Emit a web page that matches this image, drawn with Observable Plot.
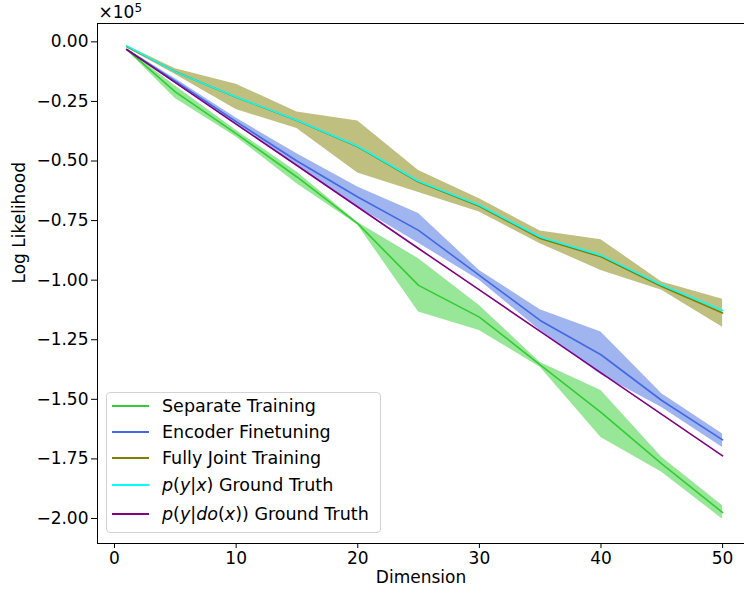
<!DOCTYPE html>
<html><head><meta charset="utf-8">
<script src="https://cdn.jsdelivr.net/npm/d3@7"></script>
<script src="https://cdn.jsdelivr.net/npm/@observablehq/plot@0.6"></script>
<style>
body{margin:0;background:#fff;}
#wrap{position:relative;width:744px;height:592px;font-family:"DejaVu Sans",sans-serif;}
#legend{position:absolute;left:106px;top:392px;width:275px;height:141px;box-sizing:border-box;border:1px solid #d3d3d3;border-radius:4px;background:rgba(255,255,255,0.8);font-size:17.5px;color:#000;}
.item{position:absolute;left:0;width:100%;height:22px;line-height:22px;}
.sw{position:absolute;left:5px;top:10px;width:37px;height:2px;display:block;}
.lab{position:absolute;left:55px;top:0;white-space:nowrap;}
</style></head>
<body>
<div id="wrap"><div id="legend"></div></div>
<script>
// values in units of 1e5
const dims = [1, 5, 10, 15, 20, 25, 30, 35, 40, 45, 50];
const sepMean = [-0.032, -0.21, -0.385, -0.567, -0.763, -1.022, -1.155, -1.355, -1.555, -1.771, -1.975];
const sepLow  = [-0.034, -0.238, -0.399, -0.595, -0.768, -1.134, -1.211, -1.365, -1.66, -1.806, -2.003];
const sepHigh = [-0.030, -0.185, -0.371, -0.546, -0.758, -0.91, -1.106, -1.345, -1.463, -1.743, -1.947];
const encMean = [-0.032, -0.165, -0.335, -0.50, -0.651, -0.791, -0.98, -1.169, -1.313, -1.505, -1.67];
const encLow  = [-0.034, -0.175, -0.35, -0.52, -0.693, -0.845, -1.0, -1.211, -1.397, -1.534, -1.702];
const encHigh = [-0.030, -0.155, -0.32, -0.47, -0.609, -0.72, -0.959, -1.124, -1.218, -1.477, -1.646];
const jointMean = [-0.02, -0.125, -0.232, -0.33, -0.44, -0.588, -0.69, -0.825, -0.902, -1.027, -1.138];
const jointLow  = [-0.025, -0.137, -0.284, -0.364, -0.55, -0.632, -0.714, -0.847, -0.959, -1.042, -1.198];
const jointHigh = [-0.015, -0.113, -0.178, -0.294, -0.332, -0.54, -0.658, -0.794, -0.83, -1.008, -1.08];
const pyxTruth = [-0.017, -0.126, -0.231, -0.329, -0.438, -0.585, -0.686, -0.819, -0.896, -1.02, -1.127];
const pdoTruth = [-0.032, -0.171, -0.345, -0.519, -0.693, -0.867, -1.041, -1.215, -1.389, -1.563, -1.737];

const xTicks = [0, 10, 20, 30, 40, 50];
const yTicks = [0, -0.25, -0.5, -0.75, -1, -1.25, -1.5, -1.75, -2];
const xDomain = [-1.4, 51.8];
const yDomain = [-2.105, 0.077];

const names = ["Separate Training", "Encoder Finetuning", "Fully Joint Training",
  "<i>p</i>(<i>y</i>|<i>x</i>) Ground Truth", "<i>p</i>(<i>y</i>|<i>do</i>(<i>x</i>)) Ground Truth"];
const colors = ["#32cd32", "#4169e1", "#808000", "#00ffff", "#800080"];

const band = (lo, hi) => dims.map((d, i) => ({d, lo: lo[i], hi: hi[i]}));
const line = (v) => dims.map((d, i) => ({d, v: v[i]}));

const font = 17;
const chart = Plot.plot({
  width: 744, height: 592,
  marginLeft: 97, marginRight: 0, marginTop: 23, marginBottom: 49,
  style: {fontFamily: "DejaVu Sans, sans-serif", fontSize: font + "px", background: "#fff", color: "#000"},
  x: {domain: xDomain},
  y: {domain: yDomain},
  marks: [
    Plot.areaY(band(sepLow, sepHigh), {x: "d", y1: "lo", y2: "hi", fill: colors[0], fillOpacity: 0.5}),
    Plot.areaY(band(encLow, encHigh), {x: "d", y1: "lo", y2: "hi", fill: colors[1], fillOpacity: 0.5}),
    Plot.areaY(band(jointLow, jointHigh), {x: "d", y1: "lo", y2: "hi", fill: colors[2], fillOpacity: 0.5}),
    Plot.lineY(line(sepMean), {x: "d", y: "v", stroke: colors[0], strokeWidth: 1.6}),
    Plot.lineY(line(encMean), {x: "d", y: "v", stroke: colors[1], strokeWidth: 1.6}),
    Plot.lineY(line(jointMean), {x: "d", y: "v", stroke: colors[2], strokeWidth: 1.6}),
    Plot.lineY(line(pyxTruth), {x: "d", y: "v", stroke: colors[3], strokeWidth: 1.6}),
    Plot.lineY(line(pdoTruth), {x: "d", y: "v", stroke: colors[4], strokeWidth: 1.6}),
    Plot.ruleX([xDomain[0]], {stroke: "#000", strokeWidth: 1}),
    Plot.ruleY(yDomain, {stroke: "#000", strokeWidth: 1}),
    Plot.axisX({ticks: xTicks, tickSize: 5, tickPadding: 3, label: null, fontSize: font}),
    Plot.axisY({ticks: yTicks, tickFormat: d3.format(".2f"), tickSize: 6, tickPadding: 3, label: null, fontSize: font}),
    Plot.text(["Log Likelihood"], {frameAnchor: "left", dx: -78, rotate: -90, fontSize: font}),
    Plot.text(["Dimension"], {frameAnchor: "bottom", dy: 39, fontSize: font}),
    Plot.text(["×10"], {frameAnchor: "top-left", textAnchor: "start", lineAnchor: "bottom", dx: 1, dy: -6, fontSize: font}),
    Plot.text(["5"], {frameAnchor: "top-left", textAnchor: "start", lineAnchor: "bottom", dx: 37, dy: -12, fontSize: 12})
  ]
});
document.getElementById("wrap").prepend(chart);

const centers = [13, 39, 64.7, 92, 121.3];
const legend = document.getElementById("legend");
names.forEach((n, i) => {
  const it = document.createElement("div");
  it.className = "item";
  it.style.top = (centers[i] - 11) + "px";
  const sw = document.createElement("span");
  sw.className = "sw";
  sw.style.backgroundColor = colors[i];
  const lab = document.createElement("span");
  lab.className = "lab";
  lab.innerHTML = n;
  it.appendChild(sw);
  it.appendChild(lab);
  legend.appendChild(it);
});
</script>
</body></html>
